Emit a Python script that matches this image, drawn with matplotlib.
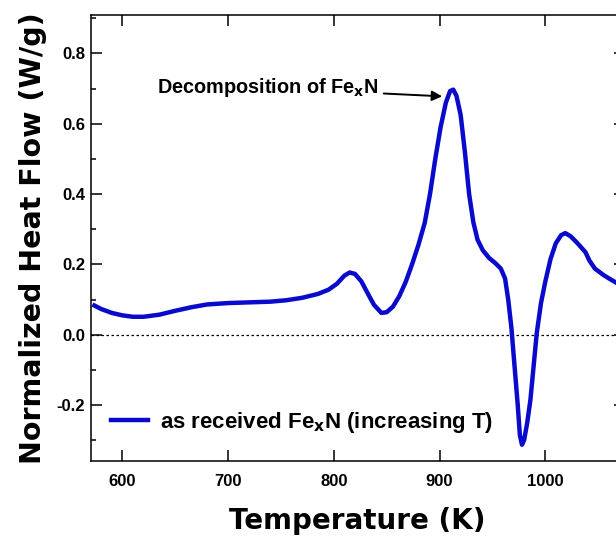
import numpy as np
import matplotlib
matplotlib.use("Agg")
import matplotlib.pyplot as plt
from matplotlib.ticker import MultipleLocator

# Data (temperature in K, normalized heat flow in W/g)
temperature = [573.5, 580, 590, 600, 610, 620, 635, 650, 665, 680, 700, 720, 740,
               755, 770, 785, 795, 803, 810, 815, 820, 826, 832, 838, 845, 850, 856,
               862, 868, 874, 880, 886, 891, 896, 901, 906, 910, 913, 916, 920, 924,
               928, 932, 936, 941, 947, 953, 958, 962, 965, 968, 971, 974, 976, 978,
               980, 983, 986, 989, 992, 996, 1000, 1005, 1010, 1015, 1019, 1024, 1030,
               1035, 1038, 1042, 1047, 1055, 1062, 1070, 1076]
heat_flow = [0.083, 0.073, 0.062, 0.055, 0.051, 0.051, 0.057, 0.068, 0.078, 0.086,
             0.090, 0.092, 0.094, 0.098, 0.105, 0.116, 0.128, 0.145, 0.168, 0.177,
             0.173, 0.152, 0.118, 0.085, 0.062, 0.064, 0.080, 0.110, 0.150, 0.200,
             0.255, 0.318, 0.400, 0.500, 0.590, 0.660, 0.693, 0.697, 0.680, 0.625,
             0.520, 0.400, 0.320, 0.270, 0.240, 0.218, 0.203, 0.188, 0.160, 0.100,
             0.020, -0.090, -0.200, -0.285, -0.313, -0.300, -0.250, -0.185, -0.090,
             0.005, 0.090, 0.150, 0.215, 0.260, 0.283, 0.289, 0.280, 0.262, 0.245,
             0.235, 0.210, 0.188, 0.170, 0.157, 0.143, 0.136]

series_label = "as received Fe$_\\mathbf{x}$N (increasing T)"
note_text = "Decomposition of Fe$_\\mathbf{x}$N"
note_tip = (902.5, 0.678)
note_tail = (842, 0.702)

plt.rcParams["axes.unicode_minus"] = False
plt.rcParams["mathtext.default"] = "bf"

fig = plt.figure(figsize=(6.16, 5.37), dpi=100)
ax = fig.add_axes([0.1472, 0.141, 0.8666, 0.8315])

ax.axhline(0, color="black", lw=0.9, ls=(0, (2, 2)))
ax.plot(temperature, heat_flow, color="#0a0acc", lw=3.2, solid_joinstyle="round",
        label=series_label)

ax.set_xlim(570, 1075)
ax.set_ylim(-0.36, 0.91)
ax.xaxis.set_major_locator(MultipleLocator(100))
ax.yaxis.set_major_locator(MultipleLocator(0.2))
ax.yaxis.set_minor_locator(MultipleLocator(0.1))
ax.tick_params(which="both", direction="in", top=True, right=True, width=1.1)
ax.tick_params(which="major", length=8)
ax.tick_params(which="minor", length=3.6)
ax.tick_params(axis="x", pad=9)
ax.tick_params(axis="y", pad=4)
for spine in ax.spines.values():
    spine.set_linewidth(1.1)
for lab in ax.get_xticklabels() + ax.get_yticklabels():
    lab.set_fontfamily("Liberation Sans")
    lab.set_fontweight("bold")
    lab.set_fontsize(12)

ax.set_xlabel("Temperature (K)", fontsize=20, fontweight="bold", labelpad=13)
ax.set_ylabel("Normalized Heat Flow (W/g)", fontsize=20.5, fontweight="bold", labelpad=7)

ax.annotate(note_text, xy=note_tip, xytext=note_tail, ha="right", va="center",
            fontsize=14.3, fontweight="bold", family="Liberation Sans",
            arrowprops=dict(arrowstyle="-|>", color="black", lw=1.4, shrinkA=2, shrinkB=0,
                            mutation_scale=15))

ax.legend(loc="lower left", bbox_to_anchor=(0.0, 0.015), frameon=False, handlelength=1.7,
          handletextpad=0.5, prop={"family": "Liberation Sans", "weight": "bold", "size": 16})

fig.savefig("out.png", dpi=100)
